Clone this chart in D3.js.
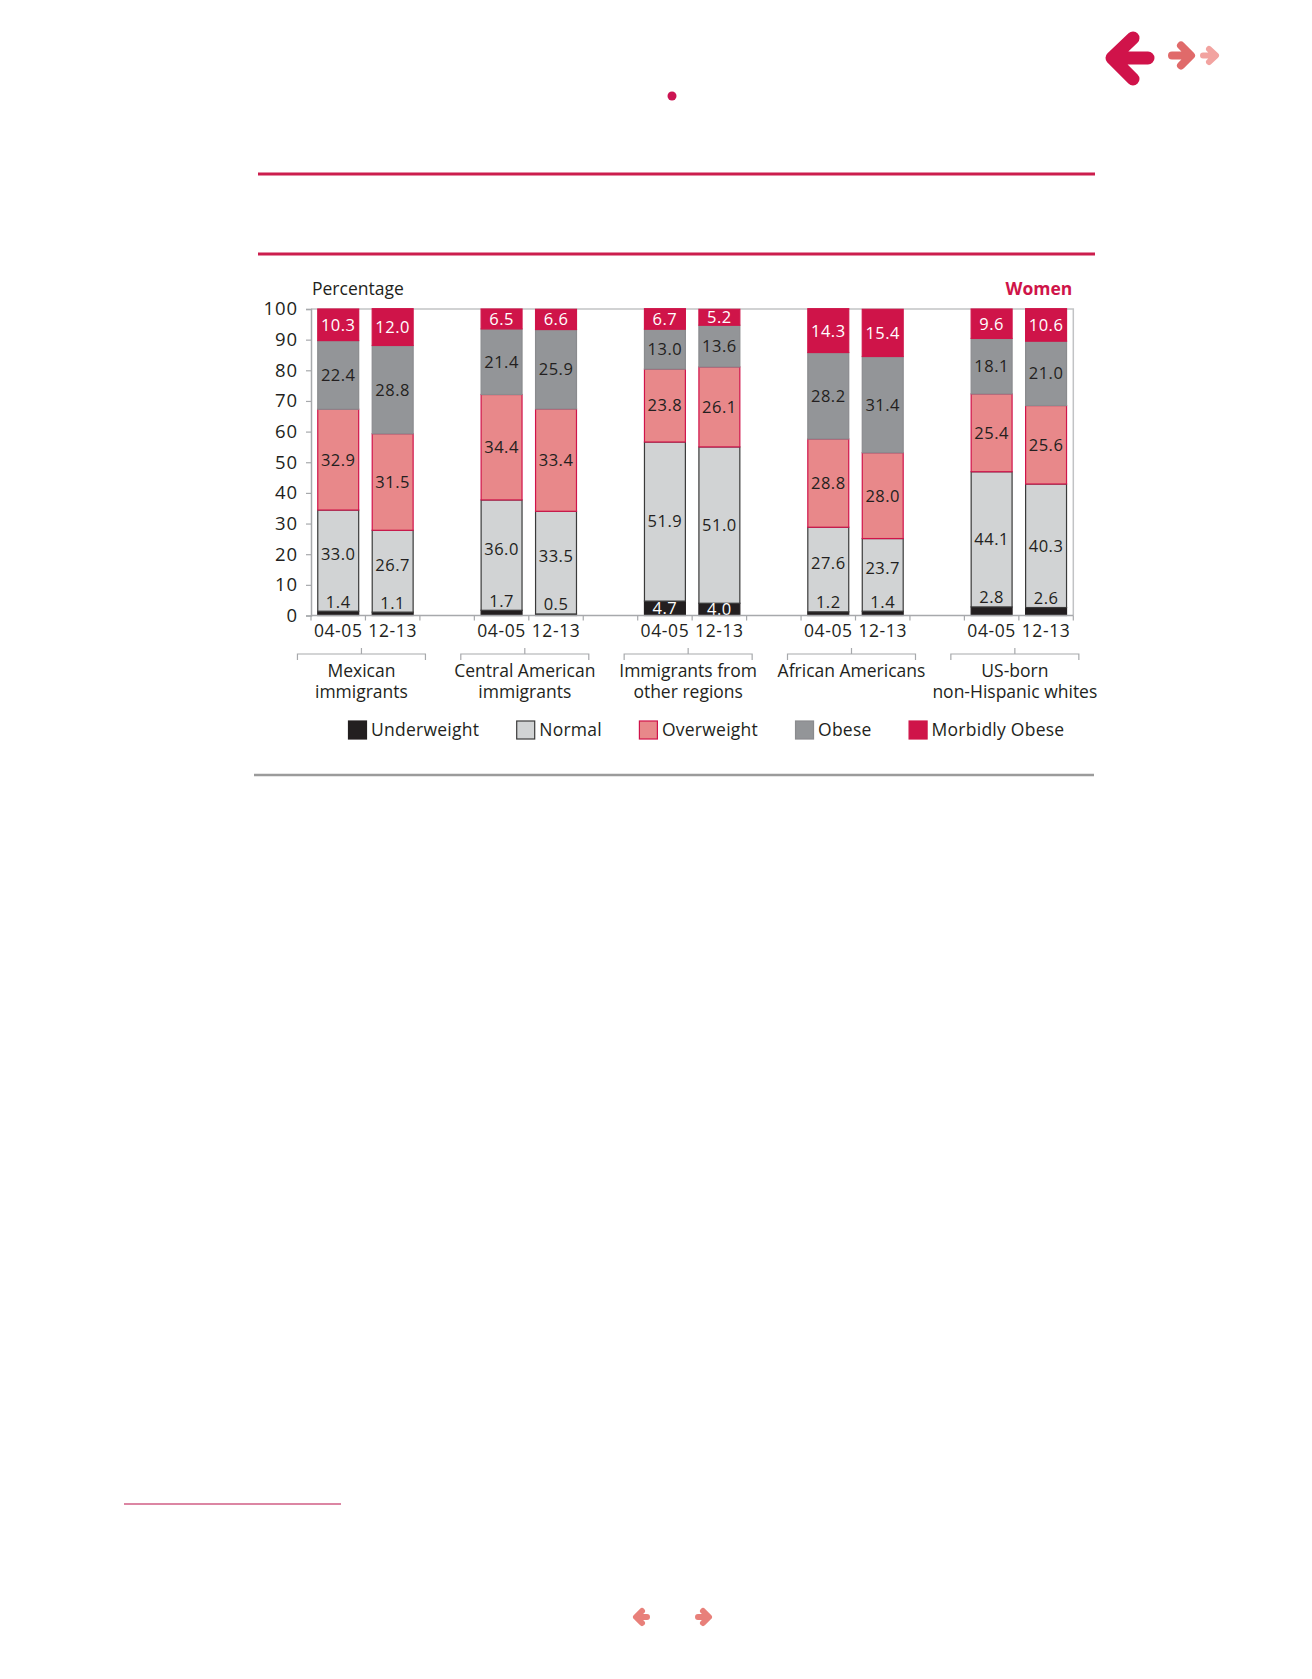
<!DOCTYPE html>
<html>
<head>
<meta charset="utf-8">
<script src="https://d3js.org/d3.v7.min.js"></script>
<style>
  body { margin: 0; background: #fff; }
  text { font-family: "Open Sans", sans-serif; fill: #231f20; }
</style>
</head>
<body>
<div id="chart"></div>
<script>

// data
var groups = [["Mexican", "immigrants"], ["Central American", "immigrants"],
              ["Immigrants from", "other regions"], ["African Americans"],
              ["US-born", "non-Hispanic whites"]];
var periods = ["04-05", "12-13"];
var underweight = [1.4, 1.1, 1.7, 0.5, 4.7, 4.0, 1.2, 1.4, 2.8, 2.6];
var normal      = [33.0, 26.7, 36.0, 33.5, 51.9, 51.0, 27.6, 23.7, 44.1, 40.3];
var overweight  = [32.9, 31.5, 34.4, 33.4, 23.8, 26.1, 28.8, 28.0, 25.4, 25.6];
var obese       = [22.4, 28.8, 21.4, 25.9, 13.0, 13.6, 28.2, 31.4, 18.1, 21.0];
var morbid      = [10.3, 12.0, 6.5, 6.6, 6.7, 5.2, 14.3, 15.4, 9.6, 10.6];
var seriesNames = ["Underweight", "Normal", "Overweight", "Obese", "Morbidly Obese"];
var yTicks = [0, 10, 20, 30, 40, 50, 60, 70, 80, 90, 100];

var W = 1312, H = 1679;
var svg = d3.select("#chart").append("svg")
  .attr("width", W).attr("height", H);

// page decoration
var crimson = "#cf1449";
[174, 254].forEach(function(yy) {
  svg.append("line").attr("x1", 258).attr("x2", 1095).attr("y1", yy).attr("y2", yy)
    .attr("stroke", "#cc1d4d").attr("stroke-width", 3);
});
svg.append("line").attr("x1", 254).attr("x2", 1094).attr("y1", 775).attr("y2", 775)
  .attr("stroke", "#9b9b9b").attr("stroke-width", 2.5);
svg.append("line").attr("x1", 124).attr("x2", 341).attr("y1", 1504).attr("y2", 1504)
  .attr("stroke", "#dc86a3").attr("stroke-width", 2);
svg.append("circle").attr("cx", 672).attr("cy", 96).attr("r", 4.5).attr("fill", "#cc1452");

function arrow(pts, color, w) {
  svg.append("path").attr("d", pts).attr("fill", "none").attr("stroke", color)
    .attr("stroke-width", w).attr("stroke-linecap", "round").attr("stroke-linejoin", "round");
}
arrow("M1148,58 L1113,58 M1133,38 L1112,58 L1133,79", "#d0134a", 13);
arrow("M1172,55.5 L1190,55.5 M1181,45.5 L1191,55.5 L1181,65.5", "#e06a6a", 8);
arrow("M1203,55.5 L1215,55.5 M1209,49 L1216,55.5 L1209,62", "#f2a3a0", 6);
arrow("M647,1617 L637,1617 M642,1611 L636,1617 L642,1623", "#e8807a", 6);
arrow("M698,1617 L708,1617 M703,1611 L709,1617 L703,1623", "#e8807a", 6);

// chart area
var plotL = 311, plotR = 1073.3, plotT = 309, plotB = 615.5;

// slots: two bars per group, an empty slot between groups
var slots = [];
var bars = [];
groups.forEach(function(g, gi) {
  periods.forEach(function(p, pi) {
    var k = gi * 2 + pi;
    slots.push("b" + k);
    bars.push({key: "b" + k, group: gi, period: p,
      vals: [underweight[k], normal[k], overweight[k], obese[k], morbid[k]]});
  });
  if (gi < groups.length - 1) slots.push("gap" + gi);
});

var x = d3.scaleBand().domain(slots).range([plotL, plotR])
  .paddingInner(0.23).paddingOuter(0.115);
var y = d3.scaleLinear().domain([0, 100]).range([plotB, plotT]);

var fills   = ["#231f20", "#d1d3d4", "#e8888a", "#939598", crimson];
var strokes = ["#231f20", "#3a3a3a", "#d0134a", "#8a8b8e", crimson];
var labelColor = ["#ffffff", "#231f20", "#231f20", "#231f20", "#ffffff"];

// frame (top and right)
svg.append("path")
  .attr("d", "M" + plotL + "," + plotT + "H" + plotR + "V" + plotB)
  .attr("fill", "none").attr("stroke", "#c2c3c5").attr("stroke-width", 1.5);

// y axis
var yAxis = svg.append("g").attr("transform", "translate(" + plotL + ",0)")
  .call(d3.axisLeft(y).tickValues(yTicks).tickSize(5).tickPadding(8));
yAxis.select(".domain").attr("stroke", "#a7a9ac").attr("stroke-width", 1.5);
yAxis.selectAll(".tick line").attr("stroke", "#a7a9ac").attr("stroke-width", 1.2);
yAxis.selectAll(".tick text").style("font-family", "Open Sans").style("font-size", "18.5px")
  .style("letter-spacing", "0.9px").attr("fill", "#231f20");

// bars
bars.forEach(function(b) {
  var base = 0;
  var bx = x(b.key), bw = x.bandwidth();
  b.vals.forEach(function(v, si) {
    var y0 = y(base), y1 = y(base + v);
    svg.append("rect")
      .attr("x", bx + 0.5).attr("y", y1)
      .attr("width", bw - 1).attr("height", y0 - y1)
      .attr("fill", fills[si])
      .attr("stroke", strokes[si]).attr("stroke-width", 1.2);
    base += v;
  });
});

// bar labels
bars.forEach(function(b) {
  var base = 0;
  var cx = x(b.key) + x.bandwidth() / 2;
  b.vals.forEach(function(v, si) {
    var y0 = y(base), y1 = y(base + v);
    var ly = (y0 + y1) / 2, col = labelColor[si];
    if (si === 0 && v < 3) { ly = y1 - 9.5; col = "#231f20"; }
    if (si === 1 && b.vals[0] < 2) ly -= 6.5;
    svg.append("text")
      .attr("x", cx).attr("y", ly).attr("dy", "0.36em")
      .attr("text-anchor", "middle")
      .style("font-size", "16.5px").style("letter-spacing", "0.5px")
      .style("fill", col)
      .text(v.toFixed(1));
    base += v;
  });
});

// x axis
svg.append("line").attr("x1", plotL).attr("x2", plotR).attr("y1", plotB).attr("y2", plotB)
  .attr("stroke", "#a7a9ac").attr("stroke-width", 1.5);
var step = x.step();
d3.range(slots.length + 1).forEach(function(i) {
  var tx = plotL + i * step;
  svg.append("line").attr("x1", tx).attr("x2", tx).attr("y1", plotB).attr("y2", plotB + 5)
    .attr("stroke", "#a7a9ac").attr("stroke-width", 1.2);
});
bars.forEach(function(b) {
  svg.append("text")
    .attr("x", x(b.key) + x.bandwidth() / 2).attr("y", 631).attr("dy", "0.36em")
    .attr("text-anchor", "middle")
    .style("font-size", "17.5px").style("letter-spacing", "0.6px")
    .text(b.period);
});

// group brackets and names
groups.forEach(function(g, gi) {
  var gx = (x("b" + gi * 2) + x("b" + (gi * 2 + 1)) + x.bandwidth()) / 2 - 4;
  svg.append("path")
    .attr("d", "M" + (gx - 64) + ",660 V654 H" + (gx + 64) + " V660 M" + gx + ",654 V648")
    .attr("fill", "none").attr("stroke", "#a7a9ac").attr("stroke-width", 1.2);
  g.forEach(function(line, li) {
    svg.append("text")
      .attr("x", gx).attr("y", 671 + li * 21).attr("dy", "0.36em")
      .attr("text-anchor", "middle")
      .style("font-size", "17.5px")
      .text(line);
  });
});

// titles
svg.append("text").attr("x", plotL + 1).attr("y", 295)
  .style("font-size", "17.5px").text("Percentage");
svg.append("text").attr("x", plotR - 1).attr("y", 295)
  .attr("text-anchor", "end")
  .style("font-size", "17.5px").style("font-weight", "bold").style("fill", crimson)
  .text("Women");

// legend
var lx = 348;
seriesNames.forEach(function(name, si) {
  svg.append("rect").attr("x", lx + 0.5).attr("y", 721).attr("width", 18).attr("height", 18)
    .attr("fill", fills[si]).attr("stroke", strokes[si]).attr("stroke-width", 1.2);
  var t = svg.append("text").attr("x", lx + 23).attr("y", 730).attr("dy", "0.36em")
    .style("font-size", "17.5px").style("letter-spacing", "0.25px").text(name);
  lx += 23 + t.node().getComputedTextLength() + 37;
});

</script>
</body>
</html>
